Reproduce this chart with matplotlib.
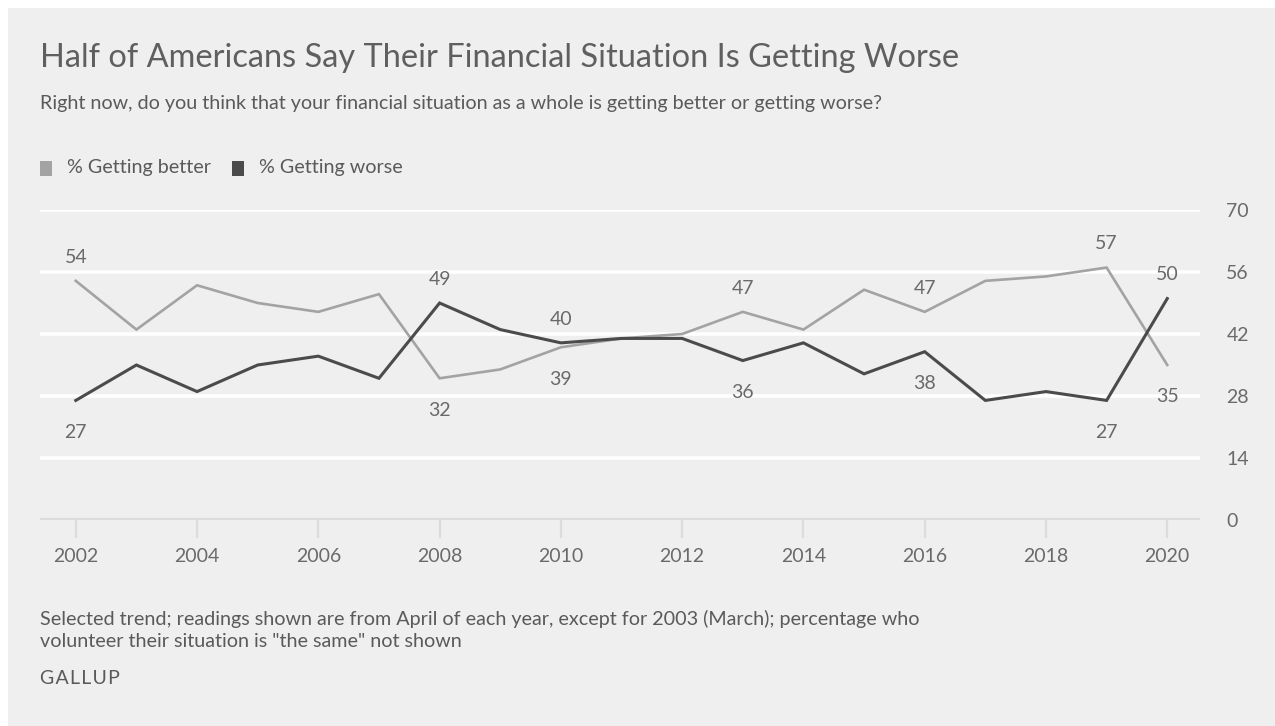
import matplotlib
matplotlib.use("Agg")
import matplotlib.pyplot as plt
from matplotlib.patches import Rectangle

plt.rcParams['font.family'] = ['Lato', 'DejaVu Sans']

# Data
years = list(range(2002, 2021))
better = [54, 43, 53, 49, 47, 51, 32, 34, 39, 41, 42, 47, 43, 52, 47, 54, 55, 57, 35]
worse = [27, 35, 29, 35, 37, 32, 49, 43, 40, 41, 41, 36, 40, 33, 38, 27, 29, 27, 50]

# labelled points: year -> 'above' / 'below'
better_labels = {2002: 'above', 2008: 'below', 2010: 'below', 2013: 'above',
                 2016: 'above', 2019: 'above', 2020: 'below'}
worse_labels = {2002: 'below', 2008: 'above', 2010: 'above', 2013: 'below',
                2016: 'below', 2019: 'below', 2020: 'above'}

x_ticks = list(range(2002, 2021, 2))
y_ticks = [0, 14, 28, 42, 56, 70]

series_names = ['% Getting better', '% Getting worse']
series_colors = ['#a3a3a3', '#4b4b4b']

title = 'Half of Americans Say Their Financial Situation Is Getting Worse'
subtitle = 'Right now, do you think that your financial situation as a whole is getting better or getting worse?'
footnote = ('Selected trend; readings shown are from April of each year, except for 2003 (March); percentage who\n'
            'volunteer their situation is "the same" not shown')
source = 'GALLUP'

W, H = 1275, 726
fig = plt.figure(figsize=(W / 100, H / 100), dpi=100, facecolor='white')
# grey panel
fig.patches.append(Rectangle((8 / W, 0), 1, 1 - 8 / H, transform=fig.transFigure,
                             facecolor='#efefef', edgecolor='none', zorder=-10))

ax = fig.add_axes([40 / W, 1 - 520 / H, (1200 - 40) / W, (520 - 210) / H])
ax.patch.set_alpha(0)

ax.set_xlim(2001.41, 2020.54)
ax.set_ylim(0, 70)
for s in ax.spines.values():
    s.set_visible(False)

for y in y_ticks[1:]:
    ax.axhline(y, color='white', lw=2.6, zorder=1)
ax.axhline(0, color='#dcdcdc', lw=3, zorder=1)

ax.yaxis.tick_right()
ax.set_yticks(y_ticks)
ax.tick_params(axis='y', length=0, pad=19, labelsize=14, labelcolor='#6a6a6a')
ax.set_xticks(x_ticks)
ax.tick_params(axis='x', length=13, width=1.6, color='#dcdcdc', direction='out',
               pad=7, labelsize=14, labelcolor='#6a6a6a')

ax.plot(years, better, color=series_colors[0], lw=1.9, zorder=3, solid_joinstyle='miter')
ax.plot(years, worse, color=series_colors[1], lw=2.2, zorder=4, solid_joinstyle='miter')

for vals, labs in [(better, better_labels), (worse, worse_labels)]:
    for yr, pos in labs.items():
        v = vals[years.index(yr)]
        off = 17 if pos == 'above' else -23
        ax.annotate(str(v), (yr, v), xytext=(0, off), textcoords='offset points',
                    ha='center', va='center', fontsize=14, color='#6a6a6a')

fig.text(40 / W, 1 - 58 / H, title, fontsize=23.4, color='#5f5f5f', va='center', ha='left')
fig.text(40 / W, 1 - 104 / H, subtitle, fontsize=14.2, color='#5a5a5a', va='center', ha='left')

# legend
lx = [40, 232]
for name, col, x0 in zip(series_names, series_colors, lx):
    fig.patches.append(Rectangle((x0 / W, 1 - 176 / H), 12 / W, 15 / H, transform=fig.transFigure,
                                 facecolor=col, edgecolor='none'))
    fig.text((x0 + 27) / W, 1 - 168 / H, name, fontsize=14.2, color='#5a5a5a', va='center', ha='left')

fig.text(40 / W, 1 - 630 / H, footnote, fontsize=14.2, color='#5a5a5a', va='center', ha='left',
         linespacing=1.35)
fig.text(40 / W, 1 - 679 / H, '\u200a'.join(source), fontsize=14, color='#5a5a5a',
         va='center', ha='left', family=['Lato', 'DejaVu Sans'])

fig.savefig('out.png', dpi=100, facecolor=fig.get_facecolor())
